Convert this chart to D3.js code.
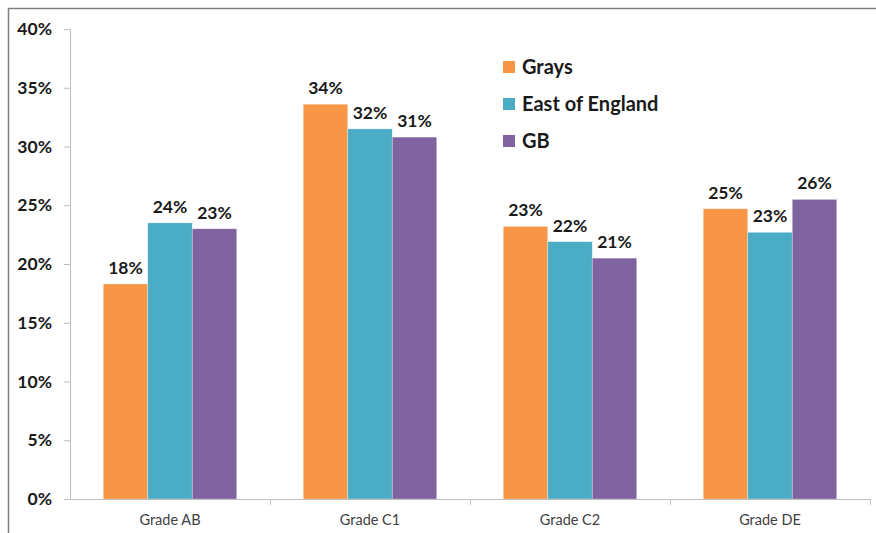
<!DOCTYPE html>
<html><head><meta charset="utf-8">
<script src="https://cdn.jsdelivr.net/npm/d3@7"></script>
<style>body{margin:0;background:#fff;} svg{display:block;}</style>
</head><body>
<svg id="c" width="876" height="533"></svg>
<script>
const categories = ["Grade AB", "Grade C1", "Grade C2", "Grade DE"];
const seriesNames = ["Grays", "East of England", "GB"];
const grays = [18.3, 33.6, 23.2, 24.7];
const eastOfEngland = [23.5, 31.5, 21.9, 22.7];
const gb = [23.0, 30.8, 20.5, 25.5];
const yTicks = [0, 5, 10, 15, 20, 25, 30, 35, 40];
const colors = ["#F79646", "#4BACC6", "#8064A2"];
const seriesValues = [grays, eastOfEngland, gb];

(function () {
const svg = d3.select("#c");
const font = "Lato, 'Open Sans', sans-serif";

// outer frame
svg.append("rect").attr("x", 8.5).attr("y", 8.5).attr("width", 900).attr("height", 600)
  .attr("fill", "none").attr("stroke", "#7f7f7f").attr("stroke-width", 1.5);

const mLeft = 70, mRight = 870, mTop = 29, mBottom = 499;
const x = d3.scaleBand().domain(categories).range([mLeft, mRight]).paddingInner(0).paddingOuter(0);
const bw = 44.5;
const x1 = d3.scaleBand().domain(seriesNames).range([0, bw * 3]);
const y = d3.scaleLinear().domain([0, 40]).range([mBottom, mTop]);

// y axis
const yAxis = svg.append("g").attr("transform", `translate(${mLeft},0)`)
  .call(d3.axisLeft(y).tickValues(yTicks).tickSize(6).tickSizeOuter(0).tickFormat(d => d + "%"));
yAxis.select(".domain").attr("stroke", "#bfbfbf");
yAxis.selectAll(".tick line").attr("stroke", "#bfbfbf");
yAxis.selectAll(".tick text").attr("x", -18).attr("font-family", font).attr("font-weight", "bold")
  .attr("font-size", 17.5).attr("fill", "#1a1a1a");

// bars
const groups = svg.append("g");
seriesNames.forEach((s, i) => {
  groups.selectAll(null).data(categories).enter().append("rect")
    .attr("x", c => x(c) + (x.bandwidth() - bw * 3) / 2 + x1(s))
    .attr("y", (c, j) => y(seriesValues[i][j]))
    .attr("width", x1.bandwidth())
    .attr("height", (c, j) => y(0) - y(seriesValues[i][j]))
    .attr("fill", colors[i])
    .attr("stroke", "rgba(255,255,255,0.5)").attr("stroke-width", 0.6);
  groups.selectAll(null).data(categories).enter().append("text")
    .attr("x", c => x(c) + (x.bandwidth() - bw * 3) / 2 + x1(s) + x1.bandwidth() / 2)
    .attr("y", (c, j) => y(seriesValues[i][j]) - 10)
    .attr("text-anchor", "middle")
    .attr("font-family", font).attr("font-weight", "bold").attr("font-size", 17.5).attr("fill", "#1a1a1a")
    .text((c, j) => Math.round(seriesValues[i][j]) + "%");
});

// x axis
const xAxis = svg.append("g").attr("transform", `translate(0,${mBottom})`)
  .call(d3.axisBottom(x).tickSize(0).tickSizeOuter(0));
xAxis.select(".domain").attr("stroke", "#bfbfbf");
xAxis.selectAll(".tick text").attr("dy", 0).attr("y", 26).attr("font-family", font)
  .attr("font-size", 14.5).attr("fill", "#404040");
// boundary ticks
const bounds = categories.map(c => x(c)).concat([x(categories[categories.length - 1]) + x.bandwidth()]).slice(1);
svg.append("g").selectAll("line").data(bounds).enter().append("line")
  .attr("x1", d => d + 0.5).attr("x2", d => d + 0.5).attr("y1", mBottom).attr("y2", mBottom + 6)
  .attr("stroke", "#bfbfbf");

// legend
const lg = svg.append("g").attr("transform", "translate(503,0)");
seriesNames.forEach((s, i) => {
  const cy = 67 + i * 37;
  lg.append("rect").attr("x", 0).attr("y", cy - 6).attr("width", 12).attr("height", 12).attr("fill", colors[i]);
  lg.append("text").attr("x", 19).attr("y", cy).attr("dy", "0.36em")
    .attr("font-family", font).attr("font-weight", "bold").attr("font-size", 20).attr("fill", "#1a1a1a").text(s);
});
})();
</script>
</body></html>
